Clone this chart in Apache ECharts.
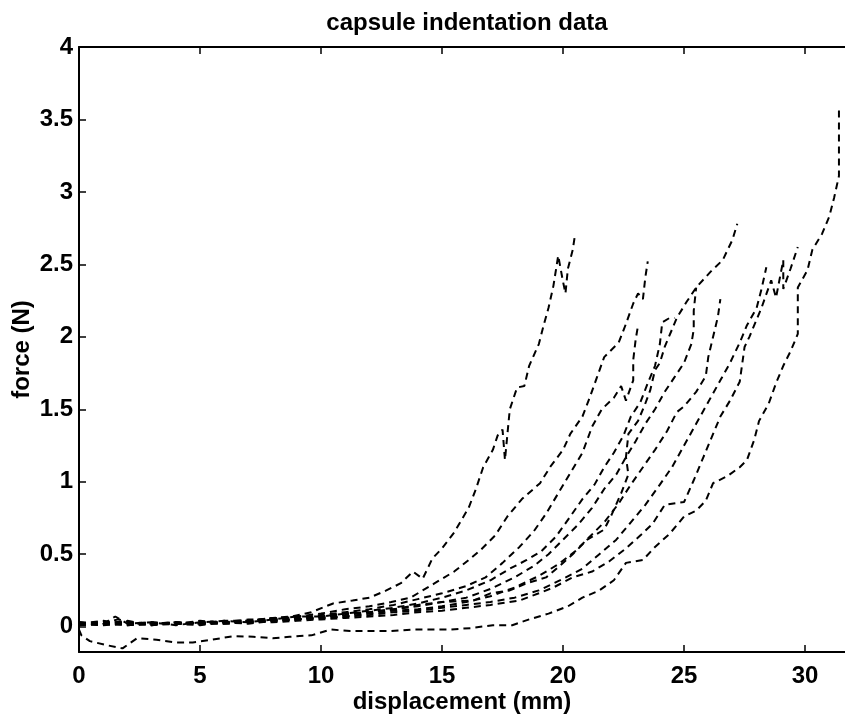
<!DOCTYPE html>
<html>
<head>
<meta charset="utf-8">
<script src="https://cdn.jsdelivr.net/npm/echarts@6/dist/echarts.min.js"></script>
<style>
html,body{margin:0;padding:0;background:#fff;}
#chart{width:845px;height:715px;}
</style>
</head>
<body>
<div id="chart"></div>
<script>
const titleText = "capsule indentation data";
const xName = "displacement (mm)";
const yName = "force (N)";
const xTicks = [0, 5, 10, 15, 20, 25, 30];
const yTicks = [0, 0.5, 1, 1.5, 2, 2.5, 3, 3.5, 4];

const curveA = [[0,0.03],[0.8,0.01],[1.6,0.05],[2.4,0.02],[3.2,0.02],[4,0.03],[5,0.02],[6,0.04],[7,0.04],[8,0.06],[8.8,0.07],[9.6,0.1],[10.5,0.16],[11.3,0.18],[12,0.2],[12.7,0.25],[13.3,0.3],[13.8,0.38],[14.2,0.33],[14.6,0.47],[15,0.54],[15.5,0.65],[16.1,0.82],[16.4,0.95],[16.7,1.1],[17.1,1.22],[17.3,1.32],[17.5,1.36],[17.6,1.15],[17.8,1.5],[18.1,1.65],[18.4,1.66],[18.6,1.8],[19,1.95],[19.2,2.08],[19.4,2.2],[19.6,2.35],[19.8,2.56],[20.0,2.38],[20.1,2.3],[20.2,2.47],[20.4,2.6],[20.5,2.71]];
const curveB = [[0,0.02],[1,0.03],[2,0.01],[3,0.02],[4,0.03],[5,0.02],[6,0.03],[7,0.05],[8,0.05],[9,0.07],[10,0.09],[11,0.12],[12,0.14],[12.9,0.17],[13.7,0.2],[14.7,0.3],[15.5,0.38],[16.1,0.46],[16.6,0.53],[17.2,0.63],[17.7,0.76],[18.3,0.88],[19.05,0.99],[19.5,1.11],[20,1.22],[20.3,1.33],[20.8,1.45],[21.1,1.58],[21.4,1.72],[21.7,1.86],[22.3,1.96],[22.6,2.09],[22.9,2.23],[23.1,2.3],[23.3,2.26],[23.4,2.41],[23.5,2.52]];
const curveJ = [[0,0.01],[1,0.02],[2,0.04],[3,0.01],[4,0.02],[5,0.04],[6,0.03],[7,0.04],[8,0.06],[9,0.06],[10,0.08],[11,0.1],[12,0.12],[13,0.15],[14,0.19],[15,0.23],[16,0.28],[16.8,0.34],[17.5,0.44],[18.2,0.55],[18.8,0.66],[19.3,0.78],[19.8,0.92],[20.3,1.06],[20.8,1.2],[21.2,1.38],[21.6,1.5],[22.1,1.58],[22.4,1.66],[22.6,1.56],[22.9,1.7],[22.9,1.84],[23.0,1.98],[23.1,2.08]];
const curveG = [[0,0.03],[1,0.02],[1.5,0.07],[2,0.02],[3,0.03],[4,0.01],[5,0.03],[6,0.04],[7,0.03],[8,0.05],[9,0.07],[10,0.07],[11,0.09],[12,0.11],[13,0.13],[14,0.16],[15,0.2],[16,0.25],[17,0.32],[17.8,0.4],[18.5,0.46],[19.1,0.52],[19.7,0.62],[20.3,0.76],[20.8,0.88],[21.3,0.98],[21.7,1.1],[22.1,1.2],[22.5,1.32],[22.8,1.45],[23.2,1.55],[23.5,1.68],[23.8,1.8],[24.0,1.95],[24.1,2.1],[24.4,2.13],[24.6,2.13]];
const curveH = [[0,0.02],[1,0.04],[2,0.02],[3,0.03],[4,0.02],[5,0.01],[6,0.03],[7,0.04],[8,0.04],[9,0.05],[10,0.07],[11,0.08],[12,0.1],[13,0.12],[14,0.14],[15,0.17],[16,0.2],[17,0.26],[18,0.34],[18.8,0.42],[19.4,0.5],[20,0.6],[20.6,0.7],[21.2,0.82],[21.7,0.95],[22.2,1.05],[22.6,1.17],[23.0,1.28],[23.4,1.4],[23.8,1.5],[24.2,1.62],[24.6,1.72],[25.0,1.82],[25.3,1.95],[25.4,2.05],[25.4,2.18],[25.5,2.34]];
const curveI = [[0,0.01],[1,0.02],[2,0.03],[3,0.02],[4,0.03],[5,0.02],[6,0.02],[7,0.03],[8,0.04],[9,0.05],[10,0.06],[11,0.07],[12,0.09],[13,0.11],[14,0.12],[15,0.14],[16,0.17],[17,0.21],[18,0.27],[19,0.35],[19.8,0.43],[20.5,0.52],[21.1,0.62],[21.7,0.72],[22.3,0.85],[22.8,0.98],[23.3,1.1],[23.8,1.22],[24.3,1.35],[24.7,1.48],[25.0,1.52],[25.5,1.62],[25.9,1.73],[26.0,1.86],[26.2,2.0],[26.4,2.14],[26.5,2.26]];
const curveC = [[0,0.02],[1,0.01],[2,0.02],[3,0.03],[4,0.02],[5,0.03],[6,0.02],[7,0.03],[8,0.05],[9,0.05],[10,0.07],[11,0.09],[12,0.1],[13,0.12],[14,0.15],[15,0.17],[16.3,0.18],[17,0.23],[17.8,0.25],[18.5,0.3],[19.3,0.34],[19.8,0.41],[20.4,0.5],[21,0.6],[21.7,0.67],[22.0,0.77],[22.4,0.92],[22.7,1.05],[22.6,1.17],[22.7,1.33],[23.1,1.42],[23.4,1.54],[23.6,1.63],[23.8,1.77],[24.0,1.82],[24.2,1.93],[24.3,1.97],[24.7,2.13],[25.1,2.24],[25.5,2.34],[26.1,2.45],[26.6,2.53],[27.0,2.67],[27.2,2.78]];
const curveF = [[0,0.03],[1,0.02],[2,0.01],[3,0.02],[4,0.02],[5,0.03],[6,0.03],[7,0.02],[8,0.04],[9,0.05],[10,0.06],[11,0.07],[12,0.08],[13,0.1],[14,0.11],[15,0.13],[16,0.15],[17,0.17],[18,0.2],[19,0.25],[20,0.33],[20.8,0.4],[21.5,0.5],[22.2,0.6],[22.8,0.72],[23.4,0.84],[24.0,0.98],[24.5,1.1],[25.0,1.25],[25.5,1.4],[26.0,1.55],[26.5,1.7],[26.9,1.82],[27.3,1.96],[27.6,2.08],[28.0,2.2],[28.2,2.33],[28.4,2.48]];
const curveE = [[0,0.02],[1,0.03],[2,0.02],[3,0.01],[4,0.03],[5,0.02],[6,0.03],[7,0.04],[8,0.03],[9,0.04],[10,0.05],[11,0.06],[12,0.07],[13,0.08],[14,0.1],[15,0.11],[16,0.13],[17,0.15],[18.2,0.18],[19.0,0.23],[19.6,0.27],[20.4,0.34],[21.2,0.38],[21.9,0.45],[22.6,0.54],[23.2,0.63],[23.7,0.71],[24.2,0.84],[25,0.86],[25.4,1.01],[25.8,1.17],[26.2,1.33],[26.5,1.45],[26.9,1.56],[27.3,1.69],[27.5,1.93],[27.7,2.0],[28.2,2.2],[28.6,2.39],[28.8,2.27],[29.1,2.53],[29.1,2.33],[29.4,2.47],[29.7,2.62]];
const curveD = [[0,-0.02],[0.1,-0.06],[0.45,-0.1],[1.2,-0.13],[1.8,-0.15],[2.4,-0.08],[3.2,-0.09],[4,-0.11],[4.7,-0.11],[5.5,-0.09],[6.4,-0.065],[7.2,-0.07],[8,-0.08],[8.7,-0.07],[9.6,-0.06],[10.4,-0.02],[11.2,-0.03],[11.9,-0.03],[12.9,-0.03],[13.8,-0.02],[14.5,-0.02],[15.3,-0.02],[16.2,-0.01],[17.1,0.01],[17.9,0.01],[18.6,0.05],[19.4,0.09],[20.2,0.14],[20.8,0.2],[21.5,0.25],[22.1,0.32],[22.6,0.44],[23.3,0.46],[23.8,0.55],[24.4,0.64],[25,0.76],[25.5,0.8],[25.9,0.87],[26.2,0.99],[26.8,1.04],[27.3,1.1],[27.6,1.15],[27.9,1.29],[28.1,1.42],[28.5,1.54],[28.8,1.68],[29.1,1.8],[29.4,1.9],[29.7,2.02],[29.7,2.34],[30.1,2.46],[30.3,2.6],[30.7,2.71],[31.0,2.83],[31.2,2.96],[31.4,3.11],[31.4,3.25],[31.4,3.4],[31.4,3.58]];

const curves = [curveA, curveB, curveJ, curveG, curveH, curveI, curveC, curveF, curveE, curveD];

const FONT = "Liberation Sans, Arial, Helvetica, sans-serif";
const FS = 24;
const chart = echarts.init(document.getElementById('chart'), null, {renderer: 'canvas'});

const tickStyle = {color: '#000', width: 1.5};
chart.setOption({
  animation: false,
  backgroundColor: '#fff',
  title: {
    text: titleText, left: 462, top: 6, textAlign: 'center',
    textStyle: {fontFamily: FONT, fontWeight: 'bold', fontSize: FS, color: '#000'}
  },
  grid: {left: 79, top: 47, right: 0, bottom: 63, containLabel: false, outerBoundsMode: 'none'},
  xAxis: [{
    type: 'value', min: 0, max: 31.65, position: 'bottom',
    name: xName, nameLocation: 'middle', nameGap: 38, nameMoveOverlap: false,
    nameTextStyle: {fontFamily: FONT, fontWeight: 'bold', fontSize: FS, color: '#000', verticalAlign: 'top'},
    axisLine: {show: true, onZero: false, lineStyle: {color: '#000', width: 2}},
    axisTick: {show: true, inside: true, length: 7, customValues: xTicks, lineStyle: tickStyle},
    axisLabel: {customValues: xTicks, margin: 12, color: '#000', fontFamily: FONT, fontWeight: 'bold', fontSize: FS},
    splitLine: {show: false}
  }, {
    type: 'value', min: 0, max: 31.65, position: 'top',
    axisLine: {show: true, onZero: false, lineStyle: {color: '#000', width: 2}},
    axisTick: {show: true, inside: true, length: 7, customValues: xTicks, lineStyle: tickStyle},
    axisLabel: {show: false},
    splitLine: {show: false}
  }],
  yAxis: [{
    type: 'value', min: -0.175, max: 4,
    name: yName, nameLocation: 'middle', nameGap: 45, nameRotate: 90, nameMoveOverlap: false,
    nameTextStyle: {fontFamily: FONT, fontWeight: 'bold', fontSize: FS, color: '#000'},
    axisLine: {show: true, onZero: false, lineStyle: {color: '#000', width: 2}},
    axisTick: {show: true, inside: true, length: 7, customValues: yTicks, lineStyle: tickStyle},
    axisLabel: {customValues: yTicks, margin: 6, color: '#000', fontFamily: FONT, fontWeight: 'bold', fontSize: FS},
    splitLine: {show: false}
  }],
  series: curves.map(c => ({
    type: 'line', data: c, xAxisIndex: 0, yAxisIndex: 0,
    showSymbol: false, symbol: 'none', smooth: false, clip: true,
    lineStyle: {color: '#000', width: 2, type: [7, 5]}
  }))
});
</script>
</body>
</html>
